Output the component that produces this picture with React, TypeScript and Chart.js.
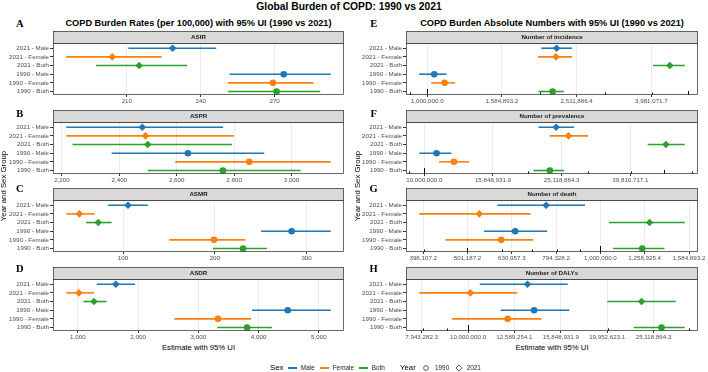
import React, { useEffect, useRef } from 'react';
import { Chart, registerables } from 'chart.js';

Chart.register(...registerables);

// Rows, top to bottom, shared by every panel
const rowLabels = ['2021 - Male', '2021 - Female', '2021 - Both', '1990 - Male', '1990 - Female', '1990 - Both'];
const rowSex = ['Male', 'Female', 'Both', 'Male', 'Female', 'Both'];
const rowYear = [2021, 2021, 2021, 1990, 1990, 1990];
const sexColors: Record<string, string> = { Male: '#1F77B4', Female: '#FF7F0E', Both: '#2CA02C' };

// Age-standardised incidence rate (per 100,000)
const asirEst = [228.6, 204.1, 215.0, 273.7, 269.3, 270.8];
const asirLow = [210.6, 185.4, 197.5, 251.7, 251.0, 251.0];
const asirHigh = [246.3, 224.1, 234.5, 292.8, 285.8, 288.5];
const asirTicks = [210, 240, 270];

// Age-standardised prevalence rate
const asprEst = [2480, 2491, 2499, 2639, 2853, 2761];
const asprLow = [2215, 2215, 2237, 2373, 2595, 2499];
const asprHigh = [2762, 2799, 2793, 2905, 3137, 3032];
const asprTicks = [2200, 2400, 2600, 2800, 3000];

// Age-standardised mortality rate
const asmrEst = [105.4, 52.4, 73.0, 283.8, 199.1, 230.8];
const asmrLow = [83.8, 38.1, 59.7, 250.3, 150.5, 198.1];
const asmrHigh = [127.0, 69.1, 87.5, 326.4, 233.4, 256.8];
const asmrTicks = [100, 200, 300];

// Age-standardised DALY rate
const asdrEst = [1630, 1016, 1268, 4483, 3326, 3808];
const asdrLow = [1313, 807, 1093, 3891, 2602, 3315];
const asdrHigh = [1948, 1268, 1477, 5198, 3874, 4220];
const asdrTicks = [1000, 2000, 3000, 4000, 5000];

// Number of incident cases
const incEst = [2220000, 2210000, 4460000, 1044000, 1113000, 2166000];
const incLow = [2020000, 1980000, 4020000, 952000, 1025000, 1984000];
const incHigh = [2440000, 2440000, 4890000, 1126000, 1187000, 2320000];
const incTicks = [1000000.0, 1584893.2, 2511886.4, 3981071.7];

// Number of prevalent cases
const prevEst = [24200000, 26300000, 50500000, 10860000, 12200000, 23200000];
const prevLow = [21500000, 23200000, 44700000, 9670000, 11050000, 20800000];
const prevHigh = [27300000, 30000000, 57300000, 12000000, 13500000, 25500000];
const prevTicks = [10000000.0, 15848931.9, 25118864.3, 39810717.1];

// Number of deaths
const deathEst = [754000, 533000, 1291000, 642000, 597000, 1243000];
const deathLow = [585000, 390000, 1046000, 546000, 447000, 1068000];
const deathHigh = [923000, 696000, 1550000, 758000, 705000, 1395000];
const deathTicks = [398107.2, 501187.2, 630957.3, 794328.2, 1000000.0, 1258925.4, 1584893.2];

// Number of DALYs
const dalyEst = [13430000, 10120000, 23670000, 13880000, 12170000, 26130000];
const dalyLow = [10600000, 7850000, 19970000, 11760000, 9230000, 22750000];
const dalyHigh = [16400000, 12760000, 28050000, 16530000, 14390000, 29320000];
const dalyTicks = [7943282.3, 10000000.0, 12589254.1, 15848931.9, 19952623.1, 25118864.3];

const SANS = "'Liberation Sans', Arial, Helvetica, sans-serif";
const SERIF = "'Liberation Serif', 'Times New Roman', serif";

type PanelCfg = {
  letter: string;
  strip: string;
  est: number[];
  low: number[];
  high: number[];
  ticks: number[];
  log: boolean;
  col: number;
  row: number;
};

const panels: PanelCfg[] = [
  { letter: 'A', strip: 'ASIR', est: asirEst, low: asirLow, high: asirHigh, ticks: asirTicks, log: false, col: 0, row: 0 },
  { letter: 'B', strip: 'ASPR', est: asprEst, low: asprLow, high: asprHigh, ticks: asprTicks, log: false, col: 0, row: 1 },
  { letter: 'C', strip: 'ASMR', est: asmrEst, low: asmrLow, high: asmrHigh, ticks: asmrTicks, log: false, col: 0, row: 2 },
  { letter: 'D', strip: 'ASDR', est: asdrEst, low: asdrLow, high: asdrHigh, ticks: asdrTicks, log: false, col: 0, row: 3 },
  { letter: 'E', strip: 'Number of incidence', est: incEst, low: incLow, high: incHigh, ticks: incTicks, log: true, col: 1, row: 0 },
  { letter: 'F', strip: 'Number of prevalence', est: prevEst, low: prevLow, high: prevHigh, ticks: prevTicks, log: true, col: 1, row: 1 },
  { letter: 'G', strip: 'Number of death', est: deathEst, low: deathLow, high: deathHigh, ticks: deathTicks, log: true, col: 1, row: 2 },
  { letter: 'H', strip: 'Number of DALYs', est: dalyEst, low: dalyLow, high: dalyHigh, ticks: dalyTicks, log: true, col: 1, row: 3 },
];

// Layout of the panel grid
const PLOT_TOPS = [43, 122, 200, 279];
const PLOT_H = 52;
const STRIP_H = 12;
const X_AXIS_H = 12;
const CANVAS_W = 354;
const CANVAS_H = STRIP_H + 1 + PLOT_H + X_AXIS_H;
const LETTER_Y = [23.5, 113.5, 188.5, 269];

// Scale limits padded by 5% of the data span (in log space for log axes)
function paddedRange(low: number[], high: number[], log: boolean): [number, number] {
  const f = (v: number) => (log ? Math.log10(v) : v);
  const lo = Math.min(...low.map(f));
  const hi = Math.max(...high.map(f));
  const pad = (hi - lo) * 0.05;
  return log ? [Math.pow(10, lo - pad), Math.pow(10, hi + pad)] : [lo - pad, hi + pad];
}

function fmtTick(v: number, log: boolean) {
  return log
    ? v.toLocaleString('en-US', { minimumFractionDigits: 1, maximumFractionDigits: 1 })
    : v.toLocaleString('en-US');
}

// Strip header, panel frame and log ticks along the bottom edge
const panelDecor = {
  id: 'panelDecor',
  beforeDatasetsDraw(chart: any, _args: any, opts: any) {
    if (!opts.logTicks) return;
    const { ctx, chartArea: a, scales } = chart;
    const xs = scales.x;
    const lo = Math.floor(Math.log10(xs.min));
    const hi = Math.ceil(Math.log10(xs.max));
    ctx.save();
    ctx.strokeStyle = '#000';
    ctx.lineWidth = 1;
    for (let k = lo; k <= hi; k++) {
      for (let m = 1; m <= 9; m++) {
        const v = m * Math.pow(10, k);
        if (v < xs.min || v > xs.max) continue;
        const len = m === 1 ? 6 : m === 5 ? 4 : 2.5;
        const px = Math.round(xs.getPixelForValue(v)) + 0.5;
        ctx.beginPath();
        ctx.moveTo(px, a.bottom);
        ctx.lineTo(px, a.bottom - len);
        ctx.stroke();
      }
    }
    ctx.restore();
  },
  afterDraw(chart: any, _args: any, opts: any) {
    const { ctx, chartArea: a } = chart;
    const w = a.right - a.left;
    ctx.save();
    ctx.fillStyle = '#D9D9D9';
    ctx.fillRect(a.left, a.top - STRIP_H, w, STRIP_H);
    ctx.strokeStyle = '#444';
    ctx.lineWidth = 0.8;
    ctx.strokeRect(a.left + 0.5, a.top - STRIP_H + 0.5, w - 1, STRIP_H);
    ctx.strokeRect(a.left + 0.5, a.top + 0.5, w - 1, a.bottom - a.top - 1);
    ctx.fillStyle = '#1A1A1A';
    ctx.font = `bold 6.2px ${SANS}`;
    ctx.textAlign = 'center';
    ctx.textBaseline = 'middle';
    ctx.fillText(opts.strip, (a.left + a.right) / 2, a.top - STRIP_H / 2 + 0.5);
    ctx.restore();
  },
};

function Panel({ cfg }: { cfg: PanelCfg }) {
  const ref = useRef<HTMLCanvasElement | null>(null);
  useEffect(() => {
    if (!ref.current) return;
    const [xmin, xmax] = paddedRange(cfg.low, cfg.high, cfg.log);
    const whiskers = rowLabels.map((_, i) => ({
      type: 'line' as const,
      data: [
        { x: cfg.low[i], y: i },
        { x: cfg.high[i], y: i },
      ],
      borderColor: sexColors[rowSex[i]],
      borderWidth: 1.6,
      borderCapStyle: 'butt' as const,
      pointRadius: 0,
      showLine: true,
      order: 1,
    }));
    const points = {
      type: 'scatter' as const,
      data: cfg.est.map((v, i) => ({ x: v, y: i })),
      backgroundColor: rowSex.map((s) => sexColors[s]),
      borderColor: rowSex.map((s) => sexColors[s]),
      borderWidth: 0,
      pointStyle: rowYear.map((y) => (y === 1990 ? 'circle' : 'rectRot')),
      pointRadius: rowYear.map((y) => (y === 1990 ? 3.3 : 3.8)),
      order: 0,
    };
    const tickFont = { family: SANS, size: 6.2 };
    const chart = new Chart(ref.current, {
      type: 'scatter',
      data: { datasets: [points, ...whiskers] as any },
      options: {
        animation: false,
        responsive: false,
        maintainAspectRatio: false,
        devicePixelRatio: 1,
        events: [],
        layout: { padding: { top: STRIP_H + 1, right: 10, left: 0, bottom: 0 } },
        plugins: {
          legend: { display: false },
          tooltip: { enabled: false },
          panelDecor: { strip: cfg.strip, logTicks: cfg.log },
        } as any,
        scales: {
          x: {
            type: cfg.log ? 'logarithmic' : 'linear',
            min: xmin,
            max: xmax,
            afterBuildTicks: (s: any) => {
              s.ticks = cfg.ticks.map((v) => ({ value: v }));
            },
            afterFit: (s: any) => {
              s.height = X_AXIS_H;
            },
            ticks: {
              autoSkip: false,
              maxRotation: 0,
              minRotation: 0,
              padding: 1,
              color: '#4D4D4D',
              font: tickFont,
              callback: (v: any) => fmtTick(Number(v), cfg.log),
            },
            grid: { color: '#EBEBEB', lineWidth: 1, tickColor: '#333', tickLength: 2, drawTicks: true },
            border: { display: false },
          } as any,
          y: {
            type: 'linear',
            reverse: true,
            min: -0.6,
            max: 5.4,
            afterBuildTicks: (s: any) => {
              s.ticks = rowLabels.map((_, i) => ({ value: i }));
            },
            afterFit: (s: any) => {
              s.width = cfg.col === 0 ? 53 : 52;
            },
            ticks: {
              autoSkip: false,
              padding: 1,
              color: '#4D4D4D',
              font: tickFont,
              callback: (v: any) => rowLabels[Number(v)] ?? '',
            },
            grid: { drawOnChartArea: false, tickColor: '#333', tickLength: 3, drawTicks: true },
            border: { display: false },
          },
        },
      },
      plugins: [panelDecor],
    });
    return () => chart.destroy();
  }, [cfg]);

  return (
    <canvas
      ref={ref}
      width={CANVAS_W}
      height={CANVAS_H}
      style={{
        position: 'absolute',
        left: cfg.col * CANVAS_W,
        top: PLOT_TOPS[cfg.row] - STRIP_H - 1,
        width: CANVAS_W,
        height: CANVAS_H,
      }}
    />
  );
}

function Label({
  x,
  y,
  text,
  size,
  bold,
  family = SANS,
  color = '#000',
  anchor = 'center',
  rotate = false,
}: {
  x: number;
  y: number;
  text: string;
  size: number;
  bold?: boolean;
  family?: string;
  color?: string;
  anchor?: 'center' | 'left';
  rotate?: boolean;
}) {
  const tx = anchor === 'center' ? '-50%' : '0';
  return (
    <div
      style={{
        position: 'absolute',
        left: x,
        top: y,
        transform: `translate(${tx}, -50%)${rotate ? ' rotate(-90deg)' : ''}`,
        transformOrigin: rotate ? '50% 50%' : undefined,
        fontFamily: family,
        fontSize: size,
        fontWeight: bold ? 700 : 400,
        color,
        whiteSpace: 'nowrap',
        lineHeight: 1,
      }}
    >
      {text}
    </div>
  );
}

const legendSex = [
  { name: 'Male', lineX: 287.5, textX: 300.7 },
  { name: 'Female', lineX: 319.5, textX: 332.7 },
  { name: 'Both', lineX: 358.5, textX: 371.7 },
];

export default function App() {
  return (
    <div
      style={{
        position: 'fixed',
        left: 0,
        top: 0,
        width: 708,
        height: 372,
        background: '#fff',
        overflow: 'hidden',
      }}
    >
      {panels.map((p) => (
        <Panel key={p.letter} cfg={p} />
      ))}

      <Label x={349} y={6.5} text="Global Burden of COPD: 1990 vs 2021" size={10.3} bold />
      <Label x={198.5} y={23.5} text="COPD Burden Rates (per 100,000) with 95% UI (1990 vs 2021)" size={9.2} bold />
      <Label x={552} y={23.5} text="COPD Burden Absolute Numbers with 95% UI (1990 vs 2021)" size={9.2} bold />

      {panels.map((p) => (
        <Label
          key={'l' + p.letter}
          x={p.col === 0 ? 19.7 : 373.7}
          y={LETTER_Y[p.row]}
          text={p.letter}
          size={10.5}
          bold
          family={SERIF}
        />
      ))}

      <Label x={4} y={186} text="Year and Sex Group" size={7.8} rotate />
      <Label x={358} y={186} text="Year and Sex Group" size={7.8} rotate />
      <Label x={198.5} y={348.3} text="Estimate with 95% UI" size={7.7} />
      <Label x={552} y={348.3} text="Estimate with 95% UI" size={7.7} />

      {/* Legend */}
      <Label x={270} y={368} text="Sex" size={7.8} anchor="left" />
      {legendSex.map((s) => (
        <React.Fragment key={s.name}>
          <div
            style={{
              position: 'absolute',
              left: s.lineX,
              top: 367.3,
              width: 9.5,
              height: 1.5,
              background: sexColors[s.name],
            }}
          />
          <Label x={s.textX} y={368} text={s.name} size={6.4} anchor="left" color="#222" />
        </React.Fragment>
      ))}
      <Label x={400} y={368} text="Year" size={7.8} anchor="left" />
      <svg style={{ position: 'absolute', left: 420, top: 362, width: 46, height: 12 }} width={46} height={12}>
        <circle cx={6} cy={6} r={2.4} fill="none" stroke="#333" strokeWidth={0.8} />
        <polygon points="39,3 42,6 39,9 36,6" fill="none" stroke="#333" strokeWidth={0.8} />
      </svg>
      <Label x={435} y={368} text="1990" size={6.4} anchor="left" color="#222" />
      <Label x={466.7} y={368} text="2021" size={6.4} anchor="left" color="#222" />
    </div>
  );
}
